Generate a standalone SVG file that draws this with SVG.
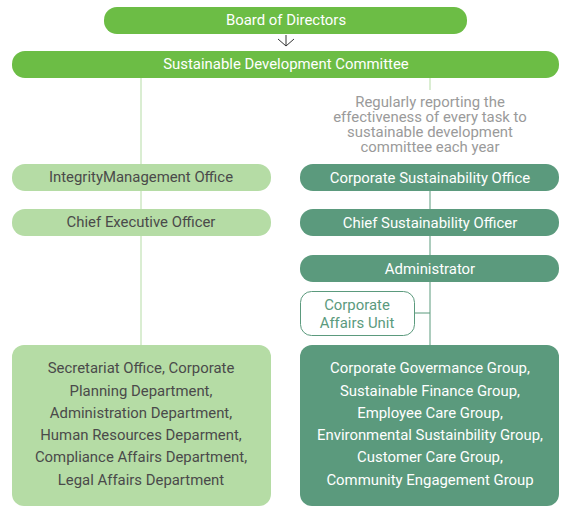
<svg xmlns="http://www.w3.org/2000/svg" width="572" height="516" viewBox="0 0 572 516">
<style>
text{font-family:Roboto,"Liberation Sans",sans-serif;font-size:14.9px;text-anchor:middle}
.top{fill:#6cbd45}
.lt{fill:#b5dca5}
.dk{fill:#5b9a7d}
.w{fill:#fff}
.g{fill:#4a4a4a}
.note{fill:#9a9a9a}
.cau{fill:#5b9a7d}
.ln{stroke-width:1;fill:none}
</style>
<g id="connectors">
<line class="ln" x1="141" y1="77" x2="141" y2="345" stroke="#b5dca5"/>
<line class="ln" x1="430" y1="77" x2="430" y2="90" stroke="#b5dca5"/>
<line class="ln" x1="430" y1="190" x2="430" y2="345" stroke="#5b9a7d"/>
<line class="ln" x1="415" y1="313" x2="430" y2="313" stroke="#5b9a7d"/>
<line class="ln" x1="286" y1="35" x2="286" y2="46" stroke="#333"/>
<polyline class="ln" points="278,39 286,46 294,39" stroke="#333"/>
</g>
<g id="board"><rect class="top" x="104" y="7" width="363" height="27" rx="13"/><text class="w" x="286" y="25">Board of Directors</text></g>
<g id="sdc"><rect class="top" x="12" y="51" width="547" height="27" rx="13"/><text class="w" x="286" y="69">Sustainable Development Committee</text></g>
<g id="note"><text class="note" x="430" y="107">Regularly reporting the</text><text class="note" x="430" y="122">effectiveness of every task to</text><text class="note" x="430" y="137">sustainable development</text><text class="note" x="430" y="152">committee each year</text></g>
<g id="imo"><rect class="lt" x="12" y="164" width="259" height="27" rx="13"/><text class="g" x="141" y="182">IntegrityManagement Office</text></g>
<g id="ceo"><rect class="lt" x="12" y="209" width="259" height="27" rx="13"/><text class="g" x="141" y="227">Chief Executive Officer</text></g>
<g id="cso-office"><rect class="dk" x="300" y="164" width="259" height="27" rx="13"/><text class="w" x="430" y="183">Corporate Sustainability Office</text></g>
<g id="cso"><rect class="dk" x="300" y="209" width="259" height="27" rx="13"/><text class="w" x="430" y="228">Chief Sustainability Officer</text></g>
<g id="admin"><rect class="dk" x="300" y="255" width="259" height="27" rx="13"/><text class="w" x="430" y="274">Administrator</text></g>
<g id="cau"><rect x="300.5" y="291.5" width="114" height="44" rx="11" fill="#fff" stroke="#5b9a7d"/><text class="cau" x="357" y="310">Corporate</text><text class="cau" x="357" y="328">Affairs Unit</text></g>
<g id="left-depts"><rect class="lt" x="12" y="345" width="259" height="161" rx="12"/>
<text class="g" x="141" y="373">Secretariat Office, Corporate</text>
<text class="g" x="141" y="396">Planning Department,</text>
<text class="g" x="141" y="418">Administration Department,</text>
<text class="g" x="141" y="440">Human Resources Deparment,</text>
<text class="g" x="141" y="462">Compliance Affairs Department,</text>
<text class="g" x="141" y="485">Legal Affairs Department</text></g>
<g id="right-groups"><rect class="dk" x="300" y="345" width="259" height="161" rx="12"/>
<text class="w" x="430" y="373">Corporate Govermance Group,</text>
<text class="w" x="430" y="396">Sustainable Finance Group,</text>
<text class="w" x="430" y="418">Employee Care Group,</text>
<text class="w" x="430" y="440">Environmental Sustainbility Group,</text>
<text class="w" x="430" y="462">Customer Care Group,</text>
<text class="w" x="430" y="485">Community Engagement Group</text></g>
</svg>
